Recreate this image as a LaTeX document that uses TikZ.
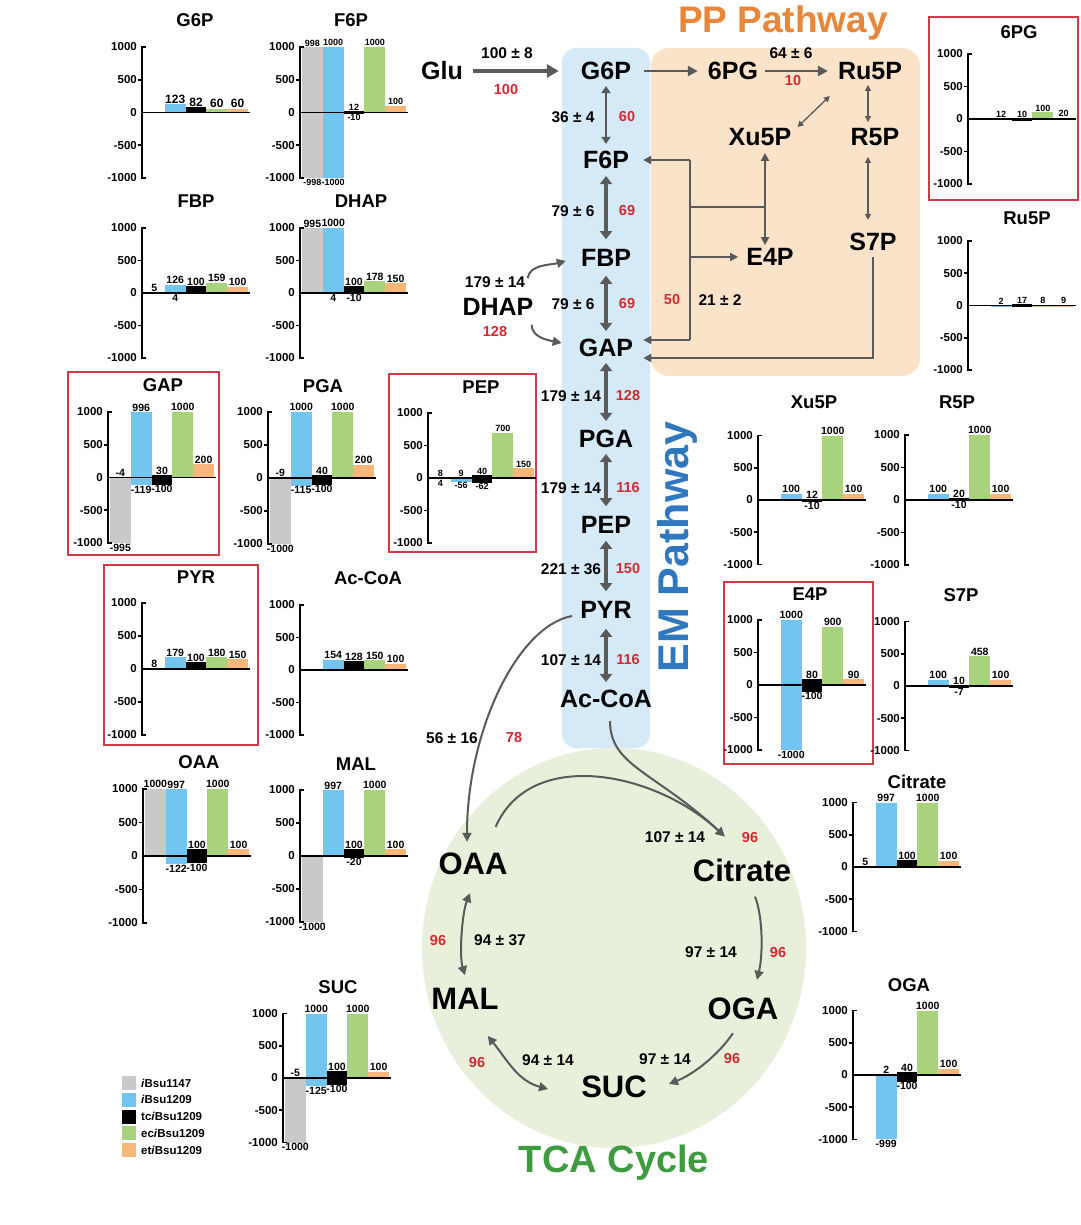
\documentclass[tikz,border=0pt]{standalone}
\usepackage{fontspec}
\setmainfont{Liberation Sans}
\usetikzlibrary{arrows.meta}
\definecolor{ag}{HTML}{5A5A5A}
\definecolor{barc1}{HTML}{C9C9C9}
\definecolor{barc2}{HTML}{71C5EF}
\definecolor{barc3}{HTML}{000000}
\definecolor{barc4}{HTML}{A8D27C}
\definecolor{barc5}{HTML}{F7B77B}
\definecolor{boxred}{HTML}{CF3B45}
\definecolor{redtxt}{HTML}{D42A2F}
\definecolor{bgblue}{HTML}{D5E9F7}
\definecolor{bgorange}{HTML}{FBE3C9}
\definecolor{bggreen}{HTML}{E8F0DC}
\definecolor{pporange}{HTML}{E8873A}
\definecolor{emblue}{HTML}{2F78BF}
\definecolor{tcagreen}{HTML}{3F9B3F}
\newcommand\fs[1]{\fontsize{#1}{#1}\selectfont}
\def\blfs{10.5}
\tikzset{
 met/.style={font=\fs{25}\bfseries, inner sep=2pt},
 tca/.style={font=\fs{31}\bfseries, inner sep=2pt},
 elab/.style={font=\fs{15.5}\bfseries, inner sep=0pt},
 rlab/.style={font=\fs{14.5}\bfseries, text=redtxt, inner sep=0pt},
 blab/.style={font=\fs{\blfs}\bfseries, inner sep=0.5pt},
 tlab/.style={font=\fs{11.5}\bfseries, inner sep=0pt, anchor=east},
 ctitle/.style={font=\fs{18.5}\bfseries, inner sep=0pt},
 axl/.style={line width=1.7pt, draw=black},
 redbox/.style={draw=boxred, line width=1.8pt},
 bigarrow/.style={draw=ag, line width=4.5pt, -{Triangle[length=12pt,width=13pt]}},
 midarrow/.style={draw=ag, line width=2.5pt, -{Triangle[length=10pt,width=10pt]}},
 emarrow/.style={draw=ag, line width=4pt, {Triangle[length=8pt,width=12pt]}-{Triangle[length=8pt,width=12pt]}},
 smallem/.style={draw=ag, line width=2.5pt, {Triangle[length=7pt,width=9pt]}-{Triangle[length=7pt,width=9pt]}},
 thind/.style={draw=ag, line width=1.3pt, {Triangle[length=6pt,width=6pt]}-{Triangle[length=6pt,width=6pt]}},
 xearrow/.style={draw=ag, line width=2pt, {Triangle[length=8pt,width=8pt]}-{Triangle[length=8pt,width=8pt]}},
 tkline/.style={draw=ag, line width=1.8pt},
 tkarrow/.style={draw=ag, line width=1.8pt, -{Triangle[length=8pt,width=8pt]}},
 curvarrow/.style={draw=ag, line width=2pt, -{Triangle[length=9pt,width=9pt]}},
 curvdouble/.style={draw=ag, line width=2pt, {Triangle[length=9pt,width=9pt]}-{Triangle[length=9pt,width=9pt]}},
}
% #1 axis x, #2 zero y, #3 px per 1000, #4 title, #5 title x, #6 title y, #7 bars lo/hi/toplabel/bottomlabel
\newcommand\mychart[7]{%
\begin{scope}[shift={(#1,#2)}]
\def\hh{#3}%
\foreach \lo/\hi/\tl/\bl [count=\i] in {#7}{%
  \pgfmathsetmacro\xa{2+(\i-1)*20.8}%
  \pgfmathsetmacro\xm{\xa+10.4}%
  \pgfmathsetmacro\xb{\xa+20.8}%
  \pgfmathsetmacro\ya{-(\hi/1000)*\hh}%
  \pgfmathsetmacro\yb{-(\lo/1000)*\hh}%
  \pgfmathsetmacro\ybb{max(\yb,\ya+1.8)}%
  \pgfmathsetmacro\yt{min(\ya,0)}%
  \pgfmathsetmacro\ybl{max(\ybb,0)}%
  \ifdim\hi pt=\lo pt\relax\else
    \ifnum\i=3
      \filldraw[fill=black,draw=black,line width=1.2pt] (\xa+0.6,\ya) rectangle (\xb-0.6,\ybb);
    \else
      \fill[fill=barc\i] (\xa,\ya) rectangle (\xb,\ybb);
    \fi
  \fi
  \node[blab,anchor=south] at (\xm,\yt-0.3) {\tl};
  \node[blab,anchor=north] at (\xm,\ybl+0.3) {\bl};
}
\draw[axl] (-1,0) -- (108,0);
\draw[axl] (4,-\hh) -- (0,-\hh) -- (0,\hh) -- (4,\hh);
\draw[axl] (-4,-\hh/2) -- (0,-\hh/2);
\draw[axl] (-4,\hh/2) -- (0,\hh/2);
\node[tlab] at (-5,-\hh) {1000};
\node[tlab] at (-5,-\hh/2) {500};
\node[tlab] at (-5,0) {0};
\node[tlab] at (-5,\hh/2) {-500};
\node[tlab] at (-5,\hh) {-1000};
\end{scope}
\node[ctitle] at (#5,#6) {#4};
}
\begin{document}
\begin{tikzpicture}[x=1pt,y=-1pt]
\fill[white] (0,0) rectangle (1080,1225);
\useasboundingbox (0,0) rectangle (1080,1225);

% ---------- backgrounds ----------
\fill[bggreen] (614,948) ellipse [x radius=192pt, y radius=200pt];
\fill[bgblue, rounded corners=14pt] (562,48) rectangle (650,748);
\fill[bgorange, rounded corners=18pt] (651,48) rectangle (920,376);

\node[font=\fs{37}\bfseries, text=pporange] (ppt) at (783,23) {PP Pathway};
\node[font=\fs{43}\bfseries, text=emblue, rotate=90] (emt) at (677,547) {EM Pathway};
\node[font=\fs{38}\bfseries, text=tcagreen] (tcat) at (614,1163) {TCA Cycle};

% ---------- metabolites ----------
\node[met] (Glu) at (442,71) {Glu};
\node[met] (G6P) at (606,71) {G6P};
\node[met] (pg6) at (733,71) {6PG};
\node[met] (Ru5P) at (870,71) {Ru5P};
\node[met] (Xu5P) at (760,137) {Xu5P};
\node[met] (R5P) at (875,137) {R5P};
\node[met] (F6P) at (606,160) {F6P};
\node[met] (FBP) at (606,258) {FBP};
\node[met] (E4P) at (770,257) {E4P};
\node[met] (S7P) at (873,242) {S7P};
\node[met] (DHAP) at (498,307) {DHAP};
\node[met] (GAP) at (606,348) {GAP};
\node[met] (PGA) at (606,439) {PGA};
\node[met] (PEP) at (606,525) {PEP};
\node[met] (PYR) at (606,610) {PYR};
\node[met] (AcCoA) at (606,699) {Ac-CoA};
\node[tca] (OAA) at (473,864) {OAA};
\node[tca] (Cit) at (742,870) {Citrate};
\node[tca] (MAL) at (465,999) {MAL};
\node[tca] (OGA) at (743,1009) {OGA};
\node[tca] (SUC) at (614,1087) {SUC};

% ---------- connectors ----------
\draw[bigarrow, shorten <=8pt, shorten >=20pt] (Glu.east) -- (G6P.west);
\draw[midarrow, shorten <=11pt, shorten >=8pt] (G6P.east) -- (pg6.west);
\draw[midarrow, shorten <=5pt, shorten >=8pt] (pg6.east) -- (Ru5P.west);
\draw[smallem, shorten <=4pt, shorten >=5pt] (G6P.south) -- (F6P.north);
\draw[emarrow, shorten <=5pt, shorten >=8pt] (F6P.south) -- (FBP.north);
\draw[emarrow, shorten <=7pt, shorten >=6pt] (FBP.south) -- (GAP.north);
\draw[emarrow, shorten <=4pt, shorten >=7pt] (GAP.south) -- (PGA.north);
\draw[emarrow, shorten <=4pt, shorten >=8pt] (PGA.south) -- (PEP.north);
\draw[emarrow, shorten <=5pt, shorten >=8pt] (PEP.south) -- (PYR.north);
\draw[emarrow, line width=3.5pt, shorten <=8pt, shorten >=6pt] (PYR.south) -- (AcCoA.north);

\draw[thind] ([shift={(-6,14)}]Ru5P.south west) -- ([shift={(4,1)}]Xu5P.north east);
\draw[thind] ([shift={(-2,3)}]Ru5P.south) -- ([shift={(-7,-4)}]R5P.north);
\draw[thind] ([shift={(-7,9)}]R5P.south) -- ([shift={(-5,-11)}]S7P.north);
\draw[xearrow, shorten <=5pt, shorten >=1pt] ([xshift=5pt]Xu5P.south) -- ([xshift=-5pt]E4P.north);

\coordinate (jt) at (690,160);
\coordinate (jb) at (690,340);
\coordinate (jm) at (690,207);
\coordinate (jx) at (765,207);
\coordinate (je) at (690,257);
\draw[tkline] (jt) -- (jb);
\draw[tkline] (jm) -- (jx);
\draw[tkarrow, shorten >=12pt] (jt) -- (jt -| F6P.east);
\draw[tkarrow, shorten >=8pt] (jb) -- (jb -| GAP.east);
\draw[tkarrow, shorten >=6pt] (je) -- (je -| E4P.west);
\draw[tkarrow, shorten <=4pt] (S7P.south) |- ([shift={(8,10)}]GAP.east);

\draw[curvarrow] ([shift={(-8,-18)}]DHAP.north east) .. controls +(2,-14) and +(-15,4) .. ([shift={(-13,3)}]FBP.west);
\draw[curvarrow] ([shift={(-4,7)}]DHAP.south east) .. controls +(0,12) and +(-15,-3) .. ([shift={(-15,-5)}]GAP.west);

\draw[curvarrow] ([shift={(-6,6)}]PYR.west) .. controls +(-55,10) and +(0,-110) .. ([shift={(-6,-9)}]OAA.north);
\draw[curvarrow] ([shift={(4,11)}]AcCoA.south) .. controls +(0,45) and +(-70,-65) .. ([shift={(34,-20)}]Cit.north west);
\draw[curvarrow] ([shift={(-14,-24)}]OAA.north east) .. controls +(35,-80) and +(-70,-65) .. ([shift={(34,-20)}]Cit.north west);
\draw[curvarrow] ([shift={(13,13)}]Cit.south) .. controls +(8,20) and +(6,-25) .. ([shift={(14,-16)}]OGA.north);
\draw[curvarrow] ([shift={(-10,11)}]OGA.south) .. controls +(-15,22) and +(25,-10) .. ([shift={(20,-3)}]SUC.east);
\draw[curvdouble] ([shift={(-13,24)}]MAL.south east) .. controls +(20,25) and +(-30,-8) .. ([shift={(-31,2)}]SUC.west);
\draw[curvdouble] ([shift={(-3,16)}]OAA.south) .. controls +(-8,20) and +(-6,-20) .. ([shift={(0,-11)}]MAL.north);

% ---------- flux labels ----------
\node[elab] (e1) at (507,53) {100 ± 8};
\node[rlab] (r1) at (506,90) {100};
\node[elab] (e2) at (791,53) {64 ± 6};
\node[rlab] (r2) at (793,81) {10};
\node[elab] (e3) at (573,117) {36 ± 4};
\node[rlab] (r3) at (627,117) {60};
\node[elab] (e4) at (573,211) {79 ± 6};
\node[rlab] (r4) at (627,211) {69};
\node[elab] (e5) at (495,282) {179 ± 14};
\node[rlab] (r5) at (495,332) {128};
\node[elab] (e6) at (573,304) {79 ± 6};
\node[rlab] (r6) at (627,304) {69};
\node[rlab] (r7) at (672,300) {50};
\node[elab] (e7) at (720,300) {21 ± 2};
\node[elab] (e8) at (571,396) {179 ± 14};
\node[rlab] (r8) at (628,396) {128};
\node[elab] (e9) at (571,488) {179 ± 14};
\node[rlab] (r9) at (628,488) {116};
\node[elab] (e10) at (571,569) {221 ± 36};
\node[rlab] (r10) at (628,569) {150};
\node[elab] (e11) at (571,660) {107 ± 14};
\node[rlab] (r11) at (628,660) {116};
\node[elab] (e12) at (452,738) {56 ± 16};
\node[rlab] (r12) at (514,738) {78};
\node[elab] (e13) at (675,837) {107 ± 14};
\node[rlab] (r13) at (750,837) {96};
\node[elab] (e14) at (500,940) {94 ± 37};
\node[rlab] (r14) at (438,940) {96};
\node[elab] (e15) at (711,952) {97 ± 14};
\node[rlab] (r15) at (778,952) {96};
\node[elab] (e16) at (548,1060) {94 ± 14};
\node[rlab] (r16) at (477,1062) {96};
\node[elab] (e17) at (665,1059) {97 ± 14};
\node[rlab] (r17) at (732,1058) {96};

% ---------- red frames ----------
\draw[redbox] (68,372) rectangle (219,555);
\draw[redbox] (389,374) rectangle (536,552);
\draw[redbox] (104,565) rectangle (258,745);
\draw[redbox] (929,17) rectangle (1078,200);
\draw[redbox] (724,582) rectangle (873,764);

% ---------- charts ----------
\def\blfs{12}
\mychart{142}{112.5}{65.5}{G6P}{195}{20}{0/0/{}/{}, 0/123/123/{}, 0/82/82/{}, 0/60/60/{}, 0/60/60/{}}
\def\blfs{9}
\mychart{300}{112.5}{65.5}{F6P}{351}{20}{-998/998/998/-998, -1000/1000/1000/-1000, -10/12/12/-10, 0/1000/1000/{}, 0/100/100/{}}
\def\blfs{10.5}
\mychart{142}{293}{65}{FBP}{196}{201}{0/5/5/{}, 4/126/126/4, 0/100/100/{}, 0/159/159/{}, 0/100/100/{}}
\mychart{300}{293}{65}{DHAP}{361}{201}{0/995/995/{}, 4/1000/1000/4, -10/100/100/-10, 0/178/178/{}, 0/150/150/{}}
\mychart{108}{477.5}{65.5}{GAP}{163}{385}{-995/-4/-4/-995, -119/996/996/-119, -100/30/30/-100, 0/1000/1000/{}, 0/200/200/{}}
\mychart{268}{478}{66}{PGA}{323}{386}{-1000/-9/-9/-1000, -115/1000/1000/-115, -100/40/40/-100, 0/1000/1000/{}, 0/200/200/{}}
\def\blfs{9}
\mychart{428}{478}{65}{PEP}{481}{387}{4/8/8/4, -56/9/9/-56, -62/40/40/-62, 0/700/700/{}, 0/150/150/{}}
\def\blfs{10.5}
\mychart{142}{669}{66}{PYR}{196}{577}{0/8/8/{}, 0/179/179/{}, 0/100/100/{}, 0/180/180/{}, 0/150/150/{}}
\mychart{300}{670}{65}{Ac-CoA}{368}{578}{0/0/{}/{}, 0/154/154/{}, 0/128/128/{}, 0/150/150/{}, 0/100/100/{}}
\mychart{143}{856}{67}{OAA}{199}{762}{0/1000/1000/{}, -122/997/997/-122, -100/100/100/-100, 0/1000/1000/{}, 0/100/100/{}}
\mychart{300}{856}{66}{MAL}{356}{764}{-1000/0/{}/-1000, 0/997/997/{}, -20/100/100/-20, 0/1000/1000/{}, 0/100/100/{}}
\mychart{283}{1078}{64.5}{SUC}{338}{987}{-1000/-5/-5/-1000, -125/1000/1000/-125, -100/100/100/-100, 0/1000/1000/{}, 0/100/100/{}}
\def\blfs{9}
\mychart{968}{119}{65}{6PG}{1019}{32}{0/0/{}/{}, 0/12/12/{}, 0/10/10/{}, 0/100/100/{}, 0/20/20/{}}
\mychart{968}{305.5}{64.5}{Ru5P}{1027}{218}{0/0/{}/{}, 0/2/2/{}, 0/17/17/{}, 0/8/8/{}, 0/9/9/{}}
\def\blfs{10.5}
\mychart{758}{500}{64.5}{Xu5P}{814}{402}{0/0/{}/{}, 0/100/100/{}, -10/12/12/-10, 0/1000/1000/{}, 0/100/100/{}}
\mychart{905}{500}{65}{R5P}{957}{402}{0/0/{}/{}, 0/100/100/{}, -10/20/20/-10, 0/1000/1000/{}, 0/100/100/{}}
\mychart{758}{685}{65}{E4P}{810}{594}{0/0/{}/{}, -1000/1000/1000/-1000, -100/80/80/-100, 0/900/900/{}, 0/90/90/{}}
\mychart{905}{686}{64.5}{S7P}{961}{595}{0/0/{}/{}, 0/100/100/{}, -7/10/10/-7, 0/458/458/{}, 0/100/100/{}}
\mychart{853}{867}{64.5}{Citrate}{917}{782}{0/5/5/{}, 0/997/997/{}, 0/100/100/{}, 0/1000/1000/{}, 0/100/100/{}}
\mychart{853}{1075}{64.5}{OGA}{909}{985}{0/0/{}/{}, -999/2/2/-999, -100/40/40/-100, 0/1000/1000/{}, 0/100/100/{}}

% ---------- legend ----------
\foreach \c/\t [count=\k] in {barc1/{\textit{i}Bsu1147}, barc2/{\textit{i}Bsu1209}, barc3/{tc\textit{i}Bsu1209}, barc4/{ec\textit{i}Bsu1209}, barc5/{et\textit{i}Bsu1209}}{
  \pgfmathsetmacro\yy{1083+(\k-1)*16.8}
  \fill[fill=\c] (122,\yy-7) rectangle (136,\yy+7);
  \node[font=\fs{11.5}\bfseries, anchor=west, inner sep=0pt] (leg\k) at (141,\yy) {\t};
}
\end{tikzpicture}
\end{document}
